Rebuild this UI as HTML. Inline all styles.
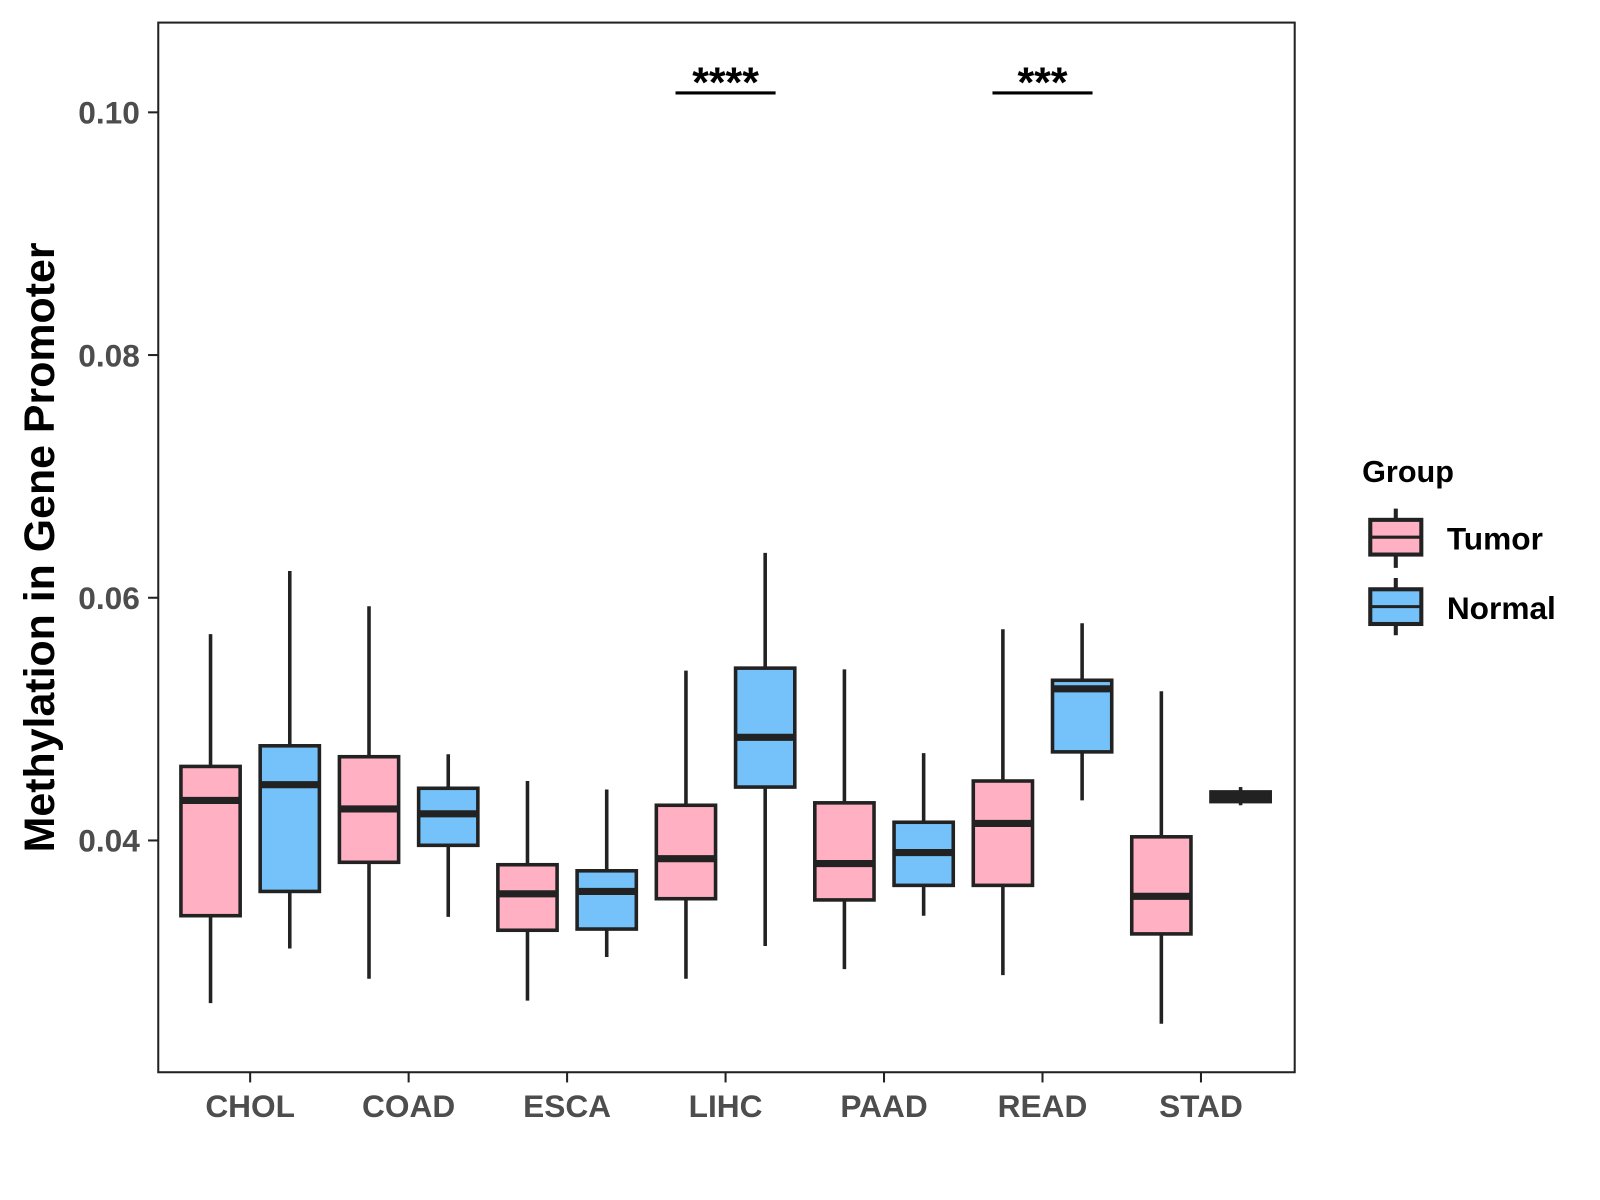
<!DOCTYPE html>
<html><head><meta charset="utf-8"><style>
html,body{margin:0;padding:0;background:#fff;}
svg{display:block;font-family:"Liberation Sans",Arial,sans-serif;font-weight:bold;}
</style></head><body>
<svg id="chart" width="1600" height="1200" viewBox="0 0 1567 1175">
<rect x="155" y="22" width="1113" height="1028" fill="#fff" stroke="#222" stroke-width="2"/>
<g id="marks"></g>
<g id="axes"></g>
<text transform="translate(53,536) rotate(-90)" text-anchor="middle" font-size="42" fill="#000">Methylation in Gene Promoter</text>
<text x="1334" y="472" font-size="30" fill="#000">Group</text>
<g>
<line x1="1367" y1="498" x2="1367" y2="556" stroke="#222" stroke-width="4"/>
<rect x="1342" y="509" width="50" height="34" fill="#FFB0C3" stroke="#222" stroke-width="4"/>
<line x1="1342" y1="526" x2="1392" y2="526" stroke="#222" stroke-width="3"/>
<text x="1417" y="538" font-size="31" fill="#000">Tumor</text>
</g>
<g>
<line x1="1367" y1="566" x2="1367" y2="622" stroke="#222" stroke-width="4"/>
<rect x="1342" y="577" width="50" height="34" fill="#74C2F9" stroke="#222" stroke-width="4"/>
<line x1="1342" y1="594" x2="1392" y2="594" stroke="#222" stroke-width="3"/>
<text x="1417" y="606" font-size="31" fill="#000">Normal</text>
</g>
</svg>
<script>
const categories = ["CHOL","COAD","ESCA","LIHC","PAAD","READ","STAD"];
const groups = ["Tumor","Normal"];
// [whiskerLow, q1, median, q3, whiskerHigh]
const tumorStats = [
 [0.0266,0.0338,0.0433,0.0461,0.0570],
 [0.0286,0.0382,0.0426,0.0469,0.0593],
 [0.0268,0.0326,0.0356,0.0380,0.0449],
 [0.0286,0.0352,0.0385,0.0429,0.0540],
 [0.0294,0.0351,0.0381,0.0431,0.0541],
 [0.0289,0.0363,0.0414,0.0449,0.0574],
 [0.0249,0.0323,0.0354,0.0403,0.0523]
];
const normalStats = [
 [0.0311,0.0358,0.0446,0.0478,0.0622],
 [0.0337,0.0396,0.0422,0.0443,0.0471],
 [0.0304,0.0327,0.0358,0.0375,0.0442],
 [0.0313,0.0444,0.0485,0.0542,0.0637],
 [0.0338,0.0363,0.0390,0.0415,0.0472],
 [0.0433,0.0473,0.0525,0.0532,0.0579],
 [0.0429,0.0432,0.0436,0.0440,0.0444]
];
const yTicks = [0.04,0.06,0.08,0.10];
const yTickLabels = ["0.04","0.06","0.08","0.10"];
const sigCategories = ["LIHC","READ"];
const sigLabels = ["****","***"];
const sigValue = 0.1016;

const NS="http://www.w3.org/2000/svg";
const y = v => 823 - (v-0.04)*11885;
const x = i => 245 + i*155.2;
const marks=document.getElementById('marks'), axes=document.getElementById('axes');
function mk(tag,attrs,parent){const e=document.createElementNS(NS,tag);for(const k in attrs)e.setAttribute(k,attrs[k]);parent.appendChild(e);return e;}
const colors={Tumor:"#FFB0C3",Normal:"#74C2F9"};
categories.forEach((c,i)=>{
  [tumorStats[i],normalStats[i]].forEach((s,g)=>{
    const cx=x(i)+(g===0?-38.8:38.8), w=58;
    const grp=mk('g',{},marks);
    
    
    mk('line',{x1:cx,x2:cx,y1:y(s[4]),y2:y(s[0]),stroke:"#222","stroke-width":3.5},grp);
    mk('rect',{x:cx-w/2,y:y(s[3]),width:w,height:Math.max(y(s[1])-y(s[3]),1),fill:colors[groups[g]],stroke:"#222","stroke-width":3.5},grp);
    mk('line',{x1:cx-w/2,x2:cx+w/2,y1:y(s[2]),y2:y(s[2]),stroke:"#222","stroke-width":7},grp);
  });
  const t=mk('line',{x1:x(i),x2:x(i),y1:1050,y2:1060,stroke:"#222","stroke-width":2},axes);
  
  
  const l=mk('text',{x:x(i),y:1094,"text-anchor":"middle","font-size":31,fill:"#4d4d4d"},axes);
  l.textContent=c;
  
  
});
yTicks.forEach((v,k)=>{
  const t=mk('line',{x1:145,x2:155,y1:y(v),y2:y(v),stroke:"#222","stroke-width":2},axes);
  
  
  const l=mk('text',{x:137,y:y(v)+11,"text-anchor":"end","font-size":31,fill:"#4d4d4d"},axes);
  l.textContent=yTickLabels[k];
  
  
});
sigCategories.forEach((c,k)=>{
  const i=categories.indexOf(c);
  const g=mk('g',{},marks);
  
  
  mk('line',{x1:x(i)-49,x2:x(i)+49,y1:y(sigValue),y2:y(sigValue),stroke:"#000","stroke-width":3},g);
  const t=mk('text',{x:x(i),y:y(sigValue)+4,"text-anchor":"middle","font-size":42,fill:"#000"},g);
  t.textContent=sigLabels[k];
});
</script>
</body></html>
